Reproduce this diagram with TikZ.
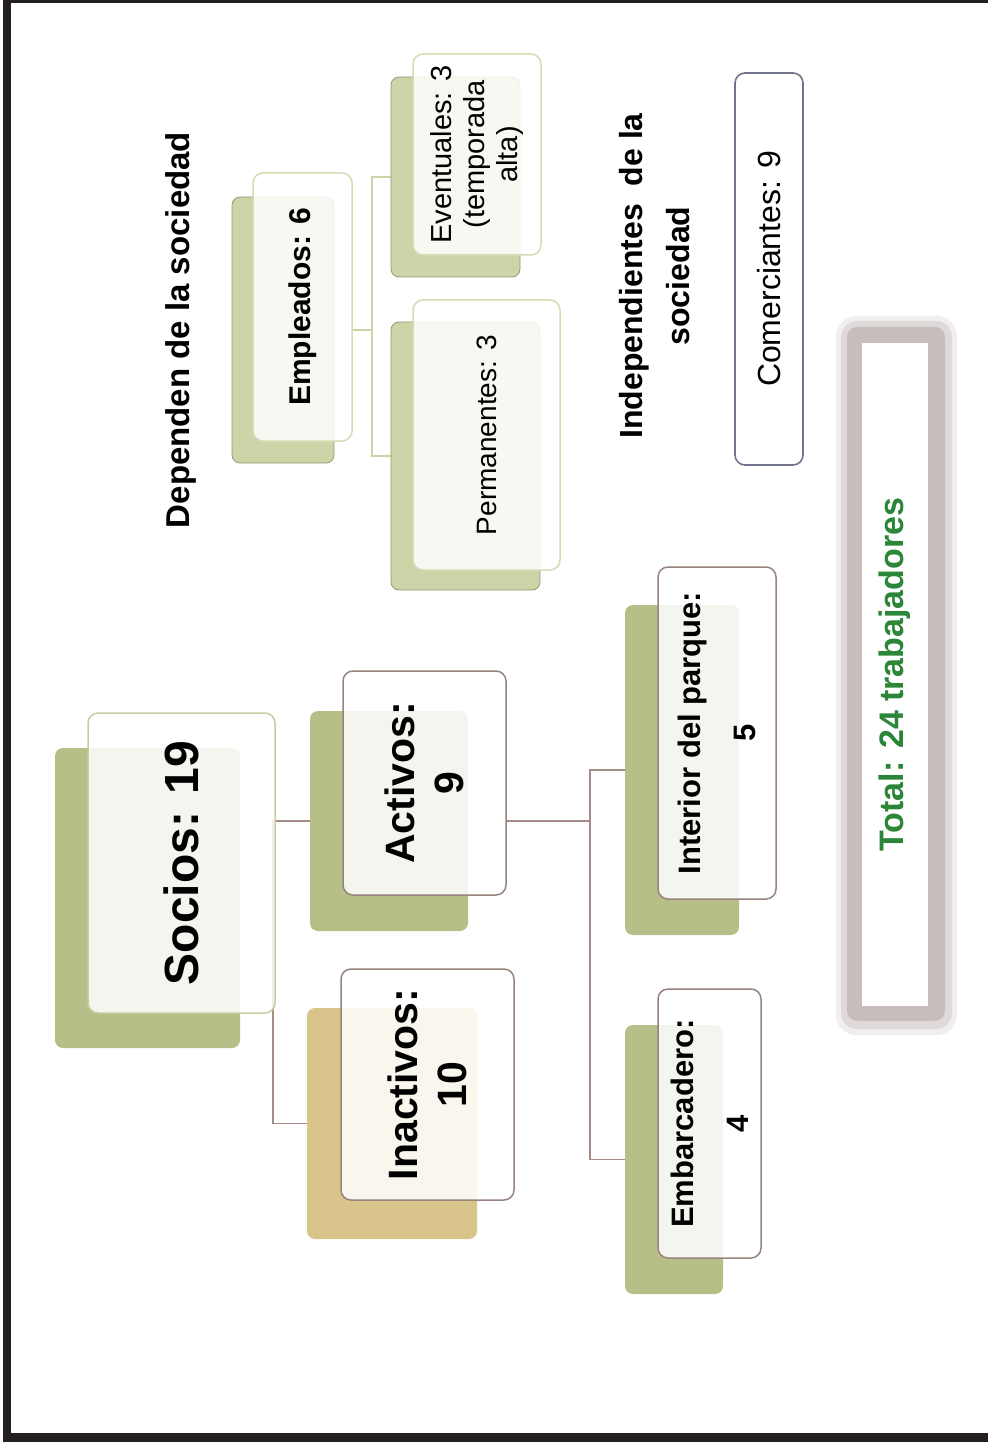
\documentclass[tikz,border=0pt]{standalone}
\usepackage{fontspec}
\setmainfont{Liberation Sans}
\usetikzlibrary{positioning,fit,backgrounds}
\definecolor{olivebox}{RGB}{182,191,136}
\definecolor{tanbox}{RGB}{217,196,140}
\definecolor{paleolive}{RGB}{206,211,168}
\definecolor{paleedge}{RGB}{150,154,116}
\definecolor{rimgreen}{RGB}{196,206,158}
\definecolor{rimbrown}{RGB}{152,132,126}
\definecolor{rimpale}{RGB}{214,219,180}
\definecolor{linkbrown}{RGB}{165,140,135}
\definecolor{linkpale}{RGB}{205,210,168}
\definecolor{comedge}{RGB}{112,116,140}
\definecolor{totgreen}{RGB}{44,134,56}
\definecolor{shadowrose}{RGB}{200,189,189}
\definecolor{halorose}{RGB}{224,217,217}
\definecolor{faderose}{RGB}{242,238,238}
\definecolor{frameblack}{RGB}{35,31,32}

\begin{document}
\begin{tikzpicture}[x=0.5pt,y=-0.5pt,
  back/.style={fill=olivebox,rounded corners=4pt,inner sep=0pt},
  pback/.style={fill=paleolive,draw=paleedge,line width=0.4pt,rounded corners=4pt,inner sep=0pt},
  front/.style={fill=white,fill opacity=0.86,draw=rimbrown,line width=0.75pt,rounded corners=5pt,inner sep=0pt},
  pfront/.style={front,draw=rimpale},
  lbl/.style={rotate=90,align=center,inner sep=0pt},
  conn/.style={draw=linkbrown,line width=0.75pt},
  pconn/.style={draw=linkpale,line width=0.75pt}
]
\useasboundingbox (0,0) rectangle (988,1444);
\fill[frameblack] (3,0) rectangle (11,1442);
\fill[frameblack] (3,0) rectangle (988,3);
\fill[frameblack] (3,1433) rectangle (988,1442);

% socios and its branches
\node[back,fit={(55,748) (240,1048)}] (soc-b) {};
\node[front,draw=rimgreen,fit={(88,713) (275,1013)}] (soc) {};
\node[lbl,font=\bfseries\fontsize{24}{28}\selectfont] (soc-t) at (soc.center) {Socios: 19};

\node[back,fit={(310,711) (468,931)}] (act-b) {};
\node[front,fit={(343,671) (506,895)}] (act) {};
\node[lbl,font=\bfseries\fontsize{20.5}{24.5}\selectfont] (act-t) at (act.center) {Activos:\\9};

\node[back,fill=tanbox,fit={(307,1008) (477,1239)}] (ina-b) {};
\node[front,fit={(341,969) (514,1200)}] (ina) {};
\node[lbl,font=\bfseries\fontsize{20.5}{24.5}\selectfont] (ina-t) at (ina.center) {Inactivos:\\10};

\node[back,fit={(625,605) (739,935)}] (int-b) {};
\node[front,fit={(658,567) (776,899)}] (int) {};
\node[lbl,font=\bfseries\fontsize{15.5}{27.5}\selectfont] (int-t) at (int.center) {Interior del parque:\\5};

\node[back,fit={(625,1025) (723,1294)}] (emb-b) {};
\node[front,fit={(658,989) (761,1258)}] (emb) {};
\node[lbl,font=\bfseries\fontsize{15.5}{27.5}\selectfont] (emb-t) at (emb.center) {Embarcadero:\\4};

% dependen de la sociedad
\node[lbl,font=\bfseries\fontsize{16.5}{20}\selectfont] (dep) at (181,330) {Dependen de la sociedad};

\node[pback,fit={(232,197) (334,463)}] (emp-b) {};
\node[pfront,fit={(253,173) (352,441)}] (emp) {};
\node[lbl,font=\bfseries\fontsize{15}{18}\selectfont] (emp-t) at (emp.center) {Empleados: 6};

\node[pback,fit={(391,77) (520,277)}] (eve-b) {};
\node[pfront,fit={(413,54) (541,255)}] (eve) {};
\node[lbl,font=\fontsize{14.5}{16.5}\selectfont] (eve-t) at (eve.center) {Eventuales: 3\\(temporada\\alta)};

\node[pback,fit={(391,322) (540,590)}] (per-b) {};
\node[pfront,fit={(413,300) (560,570)}] (per) {};
\node[lbl,font=\fontsize{14}{17}\selectfont] (per-t) at (per.center) {Permanentes: 3};

% independientes
\node[lbl,font=\bfseries\fontsize{16}{23.5}\selectfont] (ind) at (655,276) {Independientes\ \ de la\\sociedad};
\node[fill=white,draw=comedge,line width=0.8pt,rounded corners=5pt,inner sep=0pt,fit={(735,73) (803,465)}] (com) {};
\node[lbl,font=\fontsize{16}{19}\selectfont] (com-t) at (com.center) {Comerciantes: 9};

% total
\node[fill=faderose,rounded corners=10pt,inner sep=0pt,fit={(836,316) (957,1035)}] (tot-f) {};
\node[fill=halorose,rounded corners=8pt,inner sep=0pt,fit={(841,321) (952,1029)}] (tot-h) {};
\node[fill=shadowrose,rounded corners=5pt,inner sep=0pt,fit={(847,327) (945,1021)}] (tot-s) {};
\node[fill=white,inner sep=0pt,fit={(862,343) (928,1006)}] (tot) {};
\node[lbl,text=totgreen,font=\bfseries\fontsize{17}{20}\selectfont] (tot-t) at (tot.center) {Total: 24 trabajadores};

\begin{scope}[on background layer]
\coordinate (bus0) at (273,821);
\coordinate (bus1) at (372,330);
\coordinate (bus2) at (590,821);
\draw[conn] (act-b.west) -| (bus0) |- (ina-b.west);
\draw[conn] (act-b.center -| act.east) -- (bus2);
\draw[conn] (int-b.west) -| (bus2) |- (emb-b.west);
\draw[pconn] (emp-b.center -| emp.east) -- (bus1);
\draw[pconn] (eve-b.west) -| (bus1) |- (per-b.west);
\end{scope}
\end{tikzpicture}
\end{document}
